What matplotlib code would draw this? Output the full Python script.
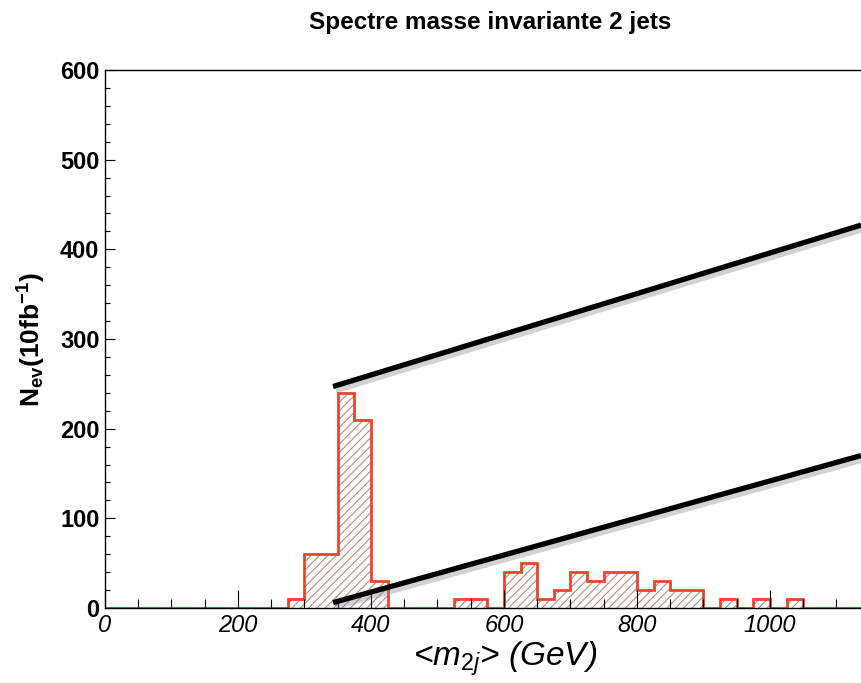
import matplotlib
matplotlib.use("Agg")
import matplotlib.pyplot as plt
import matplotlib.patheffects as pe
import numpy as np
from matplotlib.ticker import MultipleLocator

plt.rcParams['font.family'] = ['Liberation Sans', 'DejaVu Sans']
plt.rcParams['mathtext.fontset'] = 'custom'
plt.rcParams['mathtext.rm'] = 'Liberation Sans'
plt.rcParams['mathtext.it'] = 'Liberation Sans:italic'
plt.rcParams['mathtext.bf'] = 'Liberation Sans:bold'

# histogram: 25 GeV bins from 0 to 1200
bin_edges = np.arange(0, 1225, 25)
counts = [0, 0, 0, 0, 0, 0, 0, 0, 0, 0, 0,      # 0 - 275
          10, 60, 60, 240, 210, 30,             # 275 - 425
          0, 0, 0, 0,                           # 425 - 525
          10, 10, 0,                            # 525 - 600
          40, 50, 10, 20, 40, 30, 40, 40,       # 600 - 800
          20, 30, 20, 20,                       # 800 - 900
          0, 10, 0, 10, 0, 10,                  # 900 - 1050
          0, 0, 0, 0, 0, 0]                     # 1050 - 1200

# two black lines drawn over the plot
upper_line_x = [343, 1137]
upper_line_y = [247, 427]
lower_line_x = [343, 1137]
lower_line_y = [6, 170]

red = '#e8452c'
hatch_col = '#b58a80'

fig = plt.figure(figsize=(8.61, 6.83), dpi=100)
ax = fig.add_axes([105/861, 1-608/683, 1-105/861, (608-70)/683])

plt.rcParams['hatch.linewidth'] = 0.8
ax.bar(bin_edges[:-1], counts, width=25, align='edge', facecolor='none',
       edgecolor=hatch_col, linewidth=0, hatch='////')
ax.stairs(counts, bin_edges, color=red, linewidth=2, baseline=0)

shadow = [pe.SimpleLineShadow(offset=(2, -3), shadow_color='gray', alpha=0.35), pe.Normal()]
ax.plot(upper_line_x, upper_line_y, color='black', lw=3.8, solid_capstyle='butt',
        path_effects=shadow, zorder=5)
ax.plot(lower_line_x, lower_line_y, color='black', lw=3.8, solid_capstyle='butt',
        path_effects=shadow, zorder=5)

ax.set_xlim(0, 1137)
ax.set_ylim(0, 600)
ax.spines['right'].set_visible(False)
for s in ['left', 'top', 'bottom']:
    ax.spines[s].set_linewidth(1.0)

ax.xaxis.set_major_locator(MultipleLocator(200))
ax.xaxis.set_minor_locator(MultipleLocator(50))
ax.yaxis.set_major_locator(MultipleLocator(100))
ax.yaxis.set_minor_locator(MultipleLocator(20))
ax.tick_params(axis='x', which='major', direction='in', length=13, width=0.8,
               labelsize=17, pad=4)
ax.tick_params(axis='x', which='minor', direction='in', length=6.5, width=0.8)
ax.tick_params(axis='y', which='major', direction='in', length=7, width=0.8,
               labelsize=17, pad=4)
ax.tick_params(axis='y', which='minor', direction='in', length=3.6, width=0.8)
for lab in ax.get_xticklabels():
    lab.set_fontstyle('italic')
for lab in ax.get_yticklabels():
    lab.set_fontweight('bold')

ax.set_xlabel(r'<$m_{2j}$> (GeV)', fontsize=24, fontstyle='italic')
ax.xaxis.set_label_coords(0.529, -0.058)
ax.set_ylabel(r'$\mathbf{N_{ev}(10fb^{-1})}$', fontsize=19)
ax.yaxis.set_label_coords(-0.075, 0.5)
fig.text(490/861, 1-22/683, 'Spectre masse invariante 2 jets', ha='center',
         va='center', fontsize=17.5, fontweight='bold')

fig.savefig('out.png', dpi=100)
